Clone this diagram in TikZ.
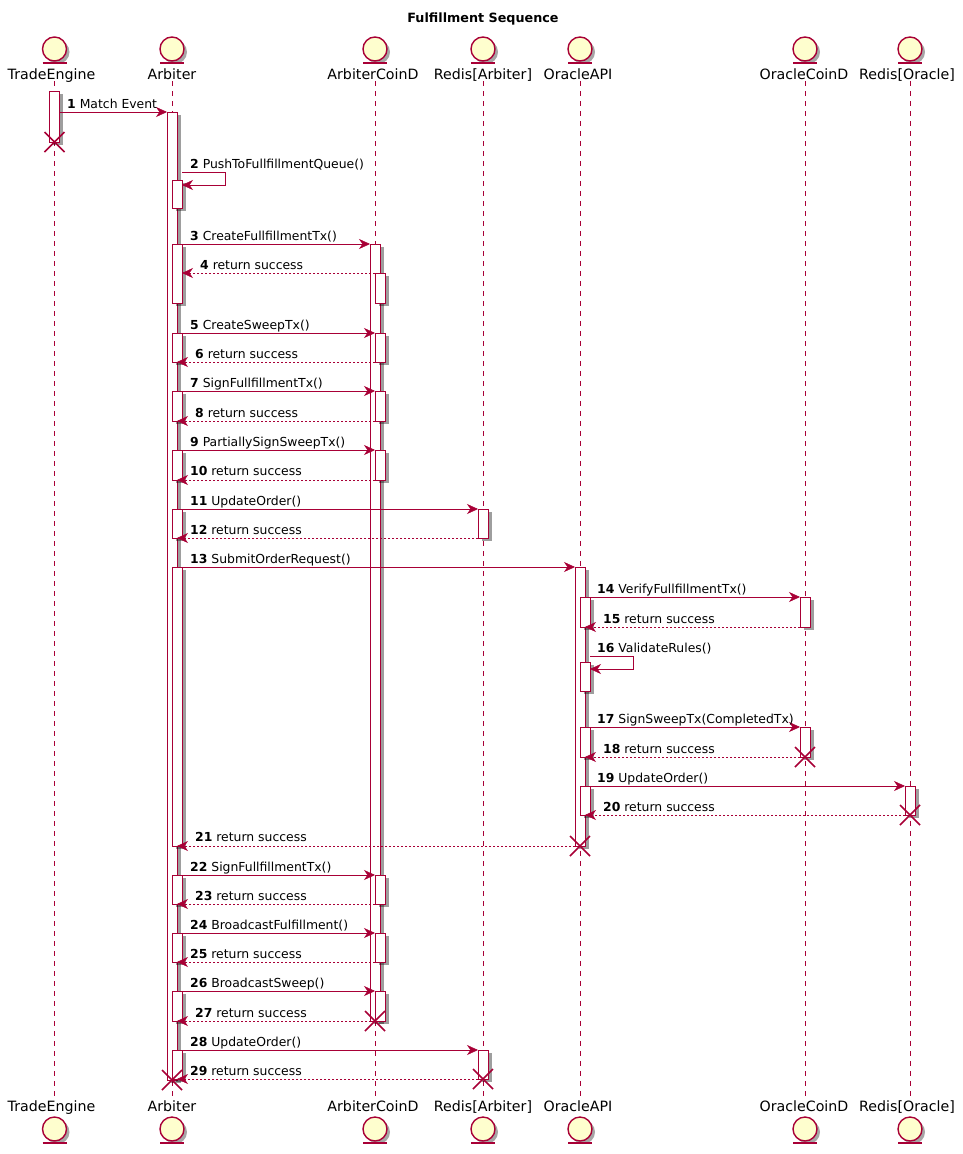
\documentclass[tikz,border=0pt]{standalone}
\usepackage{fontspec}
\setmainfont{DejaVu Sans}
\usepackage{tikz}
\usetikzlibrary{arrows.meta,positioning,shadows,shapes.misc}
\definecolor{Seq}{HTML}{A80036}
\definecolor{Soft}{HTML}{FEFECE}
\begin{document}
\begin{tikzpicture}[
    x=1pt,y=-1pt,
    entity/.style={circle,draw=Seq,fill=Soft,line width=1.4pt,minimum size=24pt,inner sep=0pt,outer sep=0pt,
        drop shadow={shadow xshift=3pt,shadow yshift=-3pt,fill=black,opacity=0.35},
        append after command={([xshift=-12pt,yshift=-2pt]\tikzlastnode.south) edge[draw=Seq,line width=1.4pt] ([xshift=12pt,yshift=-2pt]\tikzlastnode.south)}},
    actor/.style={anchor=base,inner sep=0pt,outer sep=2pt,font=\fontsize{14.2}{16}\selectfont},
    life/.style={draw=Seq,line width=0.9pt,dash pattern=on 5pt off 5pt},
    bar/.style={rectangle,draw=Seq,fill=white,line width=1pt,minimum width=10pt,inner sep=0pt,outer sep=0pt,
        drop shadow={shadow xshift=3.5pt,shadow yshift=-3pt,fill=black,opacity=0.38}},
    call/.style={-{Stealth[length=11pt,width=10pt,inset=3.5pt,line width=0.5pt]},draw=Seq,line width=1pt},
    reply/.style={-{Stealth[length=11pt,width=10pt,inset=3.5pt,line width=0.5pt]},draw=Seq,line width=0.8pt,dash pattern=on 2pt off 2pt},
    msg/.style={anchor=base west,inner sep=0pt,font=\fontsize{12.4}{14}\selectfont},
    destroy/.style={cross out,draw=Seq,line width=1.5pt,minimum size=20pt,inner sep=0pt,outer sep=0pt}
]
\useasboundingbox (0,0) rectangle (963,1154);
\node[font=\fontsize{12.75}{15}\selectfont\bfseries] (title) at (483,19) {Fulfillment Sequence};
% participants, top and bottom
\node[actor] (te) at (51.5,79) {TradeEngine};
\node[actor] (ar) at (172,79) {Arbiter};
\node[actor] (cd) at (373,79) {ArbiterCoinD};
\node[actor] (ra) at (483,79) {Redis[Arbiter]};
\node[actor] (oa) at (578,79) {OracleAPI};
\node[actor] (oc) at (804,79) {OracleCoinD};
\node[actor] (ro) at (907,79) {Redis[Oracle]};
\node[actor] (teb) at (51.5,1111) {TradeEngine};
\node[actor] (arb) at (172,1111) {Arbiter};
\node[actor] (cdb) at (373,1111) {ArbiterCoinD};
\node[actor] (rab) at (483,1111) {Redis[Arbiter]};
\node[actor] (oab) at (578,1111) {OracleAPI};
\node[actor] (ocb) at (804,1111) {OracleCoinD};
\node[actor] (rob) at (907,1111) {Redis[Oracle]};
\node[entity] (teI) at (54.5,49) {};
\node[entity] (arI) at (172,49) {};
\node[entity] (cdI) at (375,49) {};
\node[entity] (raI) at (483,49) {};
\node[entity] (oaI) at (580,49) {};
\node[entity] (ocI) at (805,49) {};
\node[entity] (roI) at (910,49) {};
\node[entity] (tebI) at (54.5,1129) {};
\node[entity] (arbI) at (172,1129) {};
\node[entity] (cdbI) at (375,1129) {};
\node[entity] (rabI) at (483,1129) {};
\node[entity] (oabI) at (580,1129) {};
\node[entity] (ocbI) at (805,1129) {};
\node[entity] (robI) at (910,1129) {};
% lifelines
\coordinate (teT) at (54.5,81);
\coordinate (arT) at (172,81);
\coordinate (cdT) at (375,81);
\coordinate (raT) at (483,81);
\coordinate (oaT) at (580,81);
\coordinate (ocT) at (805,81);
\coordinate (roT) at (910,81);
\draw[life] (teT) -- (teT |- teb.north);
\draw[life] (arT) -- (arT |- arb.north);
\draw[life] (cdT) -- (cdT |- cdb.north);
\draw[life] (raT) -- (raT |- rab.north);
\draw[life] (oaT) -- (oaT |- oab.north);
\draw[life] (ocT) -- (ocT |- ocb.north);
\draw[life] (roT) -- (roT |- rob.north);
% activations
\node[bar,minimum height=51pt] (te1) at (54.5,116.5) {};
\node[bar,minimum height=968pt] (arO) at (172,596) {};
\node[bar,minimum height=777pt] (cdO) at (375,632.5) {};
\node[bar,minimum height=279pt] (oaO) at (580,706.5) {};
\node[bar,minimum height=28pt] (a1) at (177,194) {};
\node[bar,minimum height=59pt] (a2) at (177,273.5) {};
\node[bar,minimum height=29pt] (a3) at (177,347.5) {};
\node[bar,minimum height=30pt] (a4) at (177,406) {};
\node[bar,minimum height=30pt] (a5) at (177,465) {};
\node[bar,minimum height=29pt] (a6) at (177,523.5) {};
\node[bar,minimum height=279pt] (a7) at (177,706.5) {};
\node[bar,minimum height=29pt] (a8) at (177,889.5) {};
\node[bar,minimum height=29pt] (a9) at (177,947.5) {};
\node[bar,minimum height=30pt] (a10) at (177,1006) {};
\node[bar,minimum height=29pt] (a11) at (177,1064.5) {};
\node[bar,minimum height=30pt] (c1) at (380,288) {};
\node[bar,minimum height=29pt] (c2) at (380,347.5) {};
\node[bar,minimum height=30pt] (c3) at (380,406) {};
\node[bar,minimum height=30pt] (c4) at (380,465) {};
\node[bar,minimum height=29pt] (c5) at (380,889.5) {};
\node[bar,minimum height=29pt] (c6) at (380,947.5) {};
\node[bar,minimum height=30pt] (c7) at (380,1006) {};
\node[bar,minimum height=29pt] (r1) at (483,523.5) {};
\node[bar,minimum height=29pt] (r2) at (483,1064.5) {};
\node[bar,minimum height=30pt] (o1) at (585,612) {};
\node[bar,minimum height=29pt] (o2) at (585,676.5) {};
\node[bar,minimum height=30pt] (o3) at (585,742) {};
\node[bar,minimum height=29pt] (o4) at (585,800.5) {};
\node[bar,minimum height=30pt] (p1) at (805,612) {};
\node[bar,minimum height=30pt] (p2) at (805,742) {};
\node[bar,minimum height=29pt] (q1) at (910,800.5) {};
% messages
\coordinate (self2) at (182,172);
\coordinate (self16) at (590,656);
\draw[call] (arO.north west -| te1.east) -- (arO.north west);
\draw[call] (self2) -- ++(43,0) -- ++(0,13) -- (a1.east |- 0,185);
\draw[call] (a2.north east) -- (cdO.north west);
\draw[reply] (c1.north west) -- (c1.north west -| a2.east);
\draw[call] (a3.north east) -- (c2.north west);
\draw[reply] (c2.south west) -- (c2.south west -| arO.east);
\draw[call] (a4.north east) -- (c3.north west);
\draw[reply] (c3.south west) -- (c3.south west -| arO.east);
\draw[call] (a5.north east) -- (c4.north west);
\draw[reply] (c4.south west) -- (c4.south west -| arO.east);
\draw[call] (a6.north east) -- (r1.north west);
\draw[reply] (r1.south west) -- (r1.south west -| arO.east);
\draw[call] (a7.north east) -- (oaO.north west);
\draw[call] (o1.north east) -- (p1.north west);
\draw[reply] (p1.south west) -- (p1.south west -| oaO.east);
\draw[call] (self16) -- ++(43,0) -- ++(0,13) -- (o2.east |- 0,669);
\draw[call] (o3.north east) -- (p2.north west);
\draw[reply] (p2.south west) -- (p2.south west -| oaO.east);
\draw[call] (o4.north east) -- (q1.north west);
\draw[reply] (q1.south west) -- (q1.south west -| oaO.east);
\draw[reply] (oaO.south west) -- (oaO.south west -| arO.east);
\draw[call] (a8.north east) -- (c5.north west);
\draw[reply] (c5.south west) -- (c5.south west -| arO.east);
\draw[call] (a9.north east) -- (c6.north west);
\draw[reply] (c6.south west) -- (c6.south west -| arO.east);
\draw[call] (a10.north east) -- (c7.north west);
\draw[reply] (cdO.south) -- (cdO.south -| arO.east);
\draw[call] (a11.north east) -- (r2.north west);
\draw[reply] (r2.south west) -- (r2.south west -| arO.east);
% destroyed lifelines
\node[destroy] (x1) at (te1.south) {};
\node[destroy] (x2) at (p2.south) {};
\node[destroy] (x3) at (q1.south) {};
\node[destroy] (x4) at (oaO.south) {};
\node[destroy] (x5) at (cdO.south) {};
\node[destroy] (x6) at (arO.south) {};
\node[destroy] (x7) at (r2.south) {};
% labels
\node[msg] (m1) at (67,108.5) {\textbf{1} Match Event};
\node[msg] (m2) at (190,168) {\textbf{2} PushToFullfillmentQueue()};
\node[msg] (m3) at (190,240) {\textbf{3} CreateFullfillmentTx()};
\node[msg] (m4) at (200,269) {\textbf{4} return success};
\node[msg] (m5) at (190,329) {\textbf{5} CreateSweepTx()};
\node[msg] (m6) at (195,358) {\textbf{6} return success};
\node[msg] (m7) at (190,387) {\textbf{7} SignFullfillmentTx()};
\node[msg] (m8) at (195,417) {\textbf{8} return success};
\node[msg] (m9) at (190,446) {\textbf{9} PartiallySignSweepTx()};
\node[msg] (m10) at (190,475) {\textbf{10} return success};
\node[msg] (m11) at (190,505) {\textbf{11} UpdateOrder()};
\node[msg] (m12) at (190,534) {\textbf{12} return success};
\node[msg] (m13) at (190,563) {\textbf{13} SubmitOrderRequest()};
\node[msg] (m14) at (597,593) {\textbf{14} VerifyFullfillmentTx()};
\node[msg] (m15) at (603,623) {\textbf{15} return success};
\node[msg] (m16) at (597,652) {\textbf{16} ValidateRules()};
\node[msg] (m17) at (597,723) {\textbf{17} SignSweepTx(CompletedTx)};
\node[msg] (m18) at (603,753) {\textbf{18} return success};
\node[msg] (m19) at (597,782) {\textbf{19} UpdateOrder()};
\node[msg] (m20) at (603,811) {\textbf{20} return success};
\node[msg] (m21) at (195,841) {\textbf{21} return success};
\node[msg] (m22) at (190,871) {\textbf{22} SignFullfillmentTx()};
\node[msg] (m23) at (195,900) {\textbf{23} return success};
\node[msg] (m24) at (190,929) {\textbf{24} BroadcastFulfillment()};
\node[msg] (m25) at (190,958) {\textbf{25} return success};
\node[msg] (m26) at (190,987) {\textbf{26} BroadcastSweep()};
\node[msg] (m27) at (195,1017) {\textbf{27} return success};
\node[msg] (m28) at (190,1046) {\textbf{28} UpdateOrder()};
\node[msg] (m29) at (190,1075) {\textbf{29} return success};
\end{tikzpicture}
\end{document}
